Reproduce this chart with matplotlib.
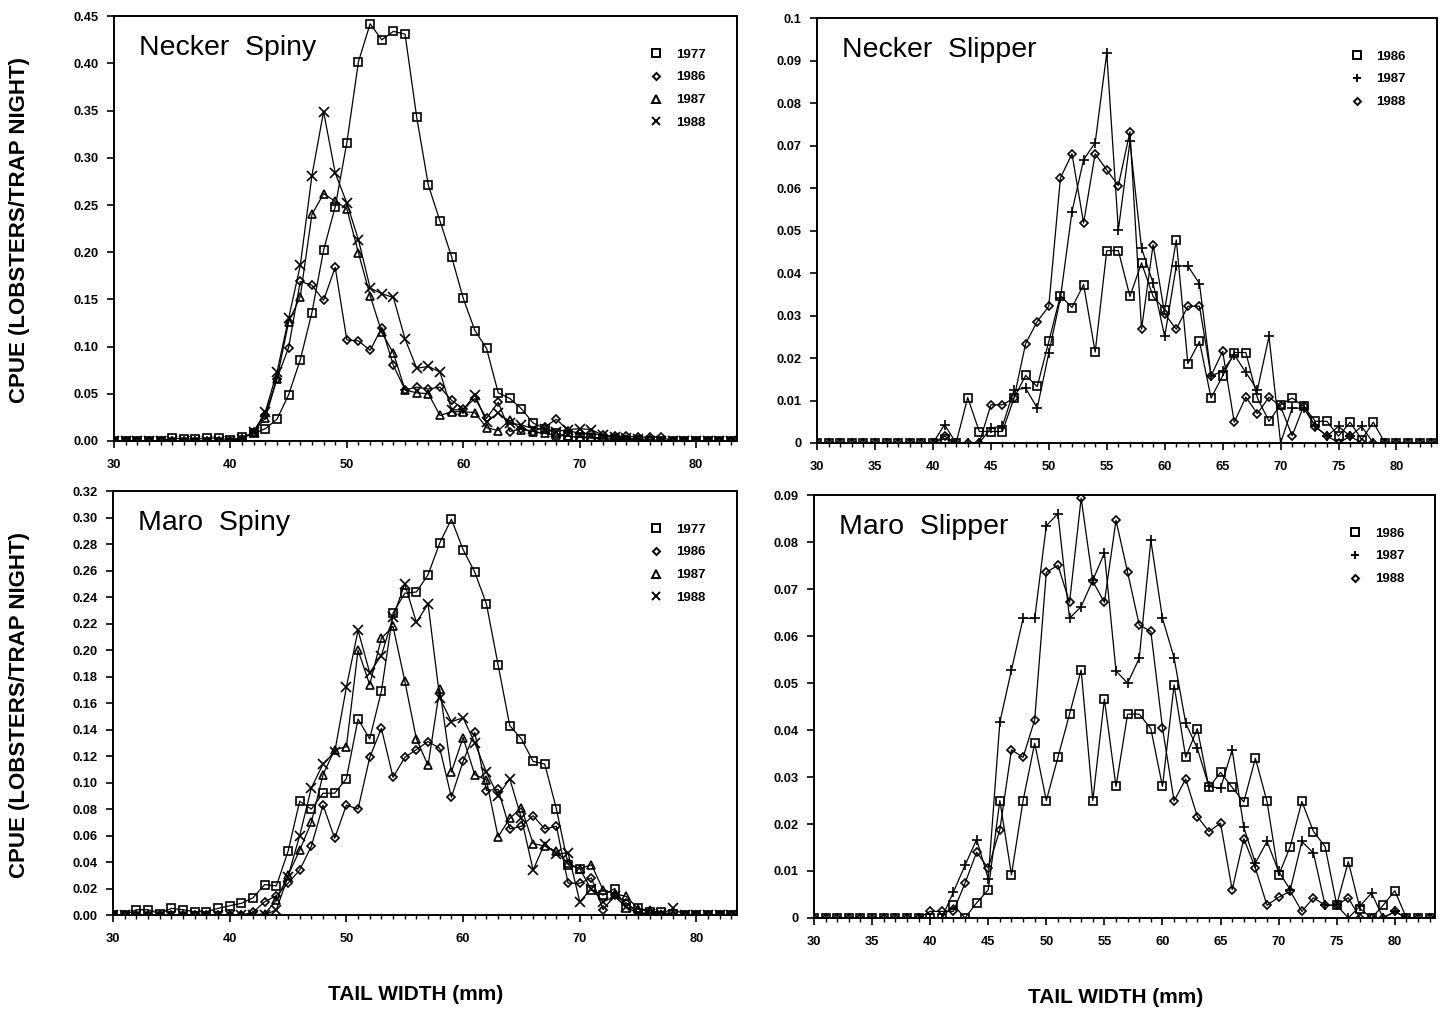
import matplotlib
matplotlib.use("Agg")
import matplotlib.pyplot as plt
from matplotlib.lines import Line2D
from matplotlib.ticker import MultipleLocator, FixedLocator

plt.rcParams["font.family"] = ["Liberation Sans", "DejaVu Sans"]

# tail width classes (mm), one point per mm
tail_width = list(range(30, 84))

# --- Necker spiny lobster CPUE ---
necker_spiny_1977 = [0, 0, 0, 0, 0, 0.003, 0.002, 0.002, 0.003, 0.003,
                     0.001, 0.004, 0.008, 0.013, 0.023, 0.049, 0.086, 0.136, 0.202, 0.248,
                     0.316, 0.402, 0.442, 0.425, 0.434, 0.431, 0.343, 0.271, 0.233, 0.195,
                     0.151, 0.117, 0.098, 0.051, 0.045, 0.034, 0.019, 0.013, 0.008, 0.005,
                     0.004, 0.003, 0.002, 0.002, 0.001, 0.001, 0, 0, 0, 0,
                     0, 0, 0, 0]
necker_spiny_1986 = [0, 0, 0, 0, 0, 0, 0, 0, 0, 0,
                     0, 0.002, 0.010, 0.028, 0.066, 0.099, 0.169, 0.165, 0.149, 0.184,
                     0.107, 0.106, 0.096, 0.120, 0.080, 0.054, 0.057, 0.055, 0.057, 0.043,
                     0.034, 0.045, 0.024, 0.041, 0.010, 0.013, 0.010, 0.015, 0.023, 0.011,
                     0.008, 0.008, 0.006, 0.005, 0.005, 0.004, 0.004, 0.004, 0, 0,
                     0, 0, 0, 0]
necker_spiny_1987 = [0, 0, 0, 0, 0, 0, 0, 0, 0, 0,
                     0, 0.002, 0.010, 0.024, 0.066, 0.126, 0.153, 0.240, 0.262, 0.254,
                     0.246, 0.199, 0.154, 0.115, 0.093, 0.054, 0.051, 0.050, 0.027, 0.031,
                     0.031, 0.030, 0.014, 0.011, 0.022, 0.012, 0.010, 0.008, 0.006, 0.005,
                     0.004, 0.004, 0.003, 0.003, 0.002, 0.002, 0.002, 0, 0, 0,
                     0, 0, 0, 0]
necker_spiny_1988 = [0, 0, 0, 0, 0, 0, 0, 0, 0, 0,
                     0, 0.002, 0.010, 0.031, 0.073, 0.130, 0.186, 0.281, 0.349, 0.284,
                     0.252, 0.213, 0.162, 0.156, 0.152, 0.108, 0.077, 0.079, 0.073, 0.033,
                     0.033, 0.049, 0.020, 0.030, 0.019, 0.017, 0.013, 0.013, 0.010, 0.012,
                     0.013, 0.012, 0.006, 0.004, 0.003, 0.002, 0, 0, 0, 0,
                     0, 0, 0, 0]

# --- Necker slipper lobster CPUE ---
necker_slipper_1986 = [0, 0, 0, 0, 0, 0, 0, 0, 0, 0,
                       0, 0.001, 0, 0.0107, 0.0027, 0.0027, 0.0027, 0.0106, 0.0159, 0.0133,
                       0.0239, 0.0347, 0.0319, 0.0373, 0.0214, 0.0453, 0.0453, 0.0345, 0.0424, 0.0345,
                       0.0314, 0.0478, 0.0187, 0.0239, 0.0106, 0.0158, 0.0213, 0.0213, 0.0106, 0.0051,
                       0.009, 0.0106, 0.0086, 0.0051, 0.0051, 0.0016, 0.0049, 0.0008, 0.0049, 0,
                       0, 0, 0, 0]
necker_slipper_1987 = [0, 0, 0, 0, 0, 0, 0, 0, 0, 0,
                       0, 0.0043, 0, 0, 0, 0.0035, 0.004, 0.0125, 0.0129, 0.0082,
                       0.0212, 0.0341, 0.0545, 0.0667, 0.0707, 0.0918, 0.0502, 0.071, 0.0459, 0.0376,
                       0.0251, 0.0417, 0.0417, 0.0375, 0.0158, 0.0169, 0.0208, 0.0166, 0.0125, 0.0251,
                       0, 0.0082, 0.0082, 0.0039, 0.0016, 0.0039, 0.0016, 0.0039, 0, 0,
                       0, 0, 0, 0]
necker_slipper_1988 = [0, 0, 0, 0, 0, 0, 0, 0, 0, 0,
                       0, 0.0016, 0, 0, 0, 0.009, 0.009, 0.0106, 0.0234, 0.0286,
                       0.0322, 0.0624, 0.0681, 0.0518, 0.0681, 0.0643, 0.0606, 0.0733, 0.0268, 0.0467,
                       0.0304, 0.0268, 0.0322, 0.0322, 0.0158, 0.0216, 0.0049, 0.0108, 0.0069, 0.0108,
                       0.0086, 0.0017, 0.0088, 0.0038, 0.0017, 0, 0.0016, 0, 0, 0,
                       0, 0, 0, 0]

# --- Maro spiny lobster CPUE ---
maro_spiny_1977 = [0, 0, 0.004, 0.004, 0.001, 0.005, 0.004, 0.0025, 0.0025, 0.005,
                   0.007, 0.0088, 0.013, 0.023, 0.022, 0.048, 0.086, 0.080, 0.092, 0.092,
                   0.103, 0.148, 0.133, 0.169, 0.228, 0.243, 0.244, 0.257, 0.281, 0.299,
                   0.276, 0.259, 0.235, 0.189, 0.143, 0.133, 0.116, 0.114, 0.080, 0.038,
                   0.035, 0.019, 0.015, 0.020, 0.0055, 0.005, 0.002, 0.002, 0.0005, 0,
                   0, 0, 0, 0]
maro_spiny_1986 = [0, 0, 0, 0, 0, 0, 0, 0, 0, 0,
                   0, 0, 0.002, 0.010, 0.0146, 0.024, 0.034, 0.052, 0.083, 0.058,
                   0.083, 0.080, 0.119, 0.141, 0.104, 0.119, 0.125, 0.131, 0.126, 0.089,
                   0.116, 0.138, 0.094, 0.095, 0.065, 0.067, 0.075, 0.065, 0.067, 0.024,
                   0.024, 0.028, 0.004, 0.015, 0.009, 0.002, 0.001, 0, 0, 0,
                   0, 0, 0, 0]
maro_spiny_1987 = [0, 0, 0, 0, 0, 0, 0, 0, 0, 0,
                   0, 0, 0, 0.001, 0.011, 0.030, 0.049, 0.070, 0.106, 0.125,
                   0.127, 0.200, 0.174, 0.209, 0.218, 0.177, 0.133, 0.113, 0.171, 0.108,
                   0.134, 0.106, 0.102, 0.059, 0.073, 0.081, 0.054, 0.052, 0.048, 0.039,
                   0.035, 0.038, 0.019, 0.016, 0.014, 0.0045, 0.004, 0.001, 0, 0,
                   0, 0, 0, 0]
maro_spiny_1988 = [0, 0, 0, 0, 0, 0, 0, 0, 0, 0,
                   0, 0, 0, 0, 0.004, 0.029, 0.060, 0.096, 0.114, 0.123,
                   0.172, 0.215, 0.183, 0.196, 0.225, 0.250, 0.221, 0.235, 0.164, 0.146,
                   0.149, 0.130, 0.108, 0.090, 0.103, 0.073, 0.034, 0.054, 0.046, 0.047,
                   0.010, 0.020, 0.010, 0.014, 0.006, 0.001, 0.001, 0.001, 0.005, 0,
                   0, 0, 0, 0]

# --- Maro slipper lobster CPUE ---
maro_slipper_1986 = [0, 0, 0, 0, 0, 0, 0, 0, 0, 0,
                     0, 0, 0.0028, 0, 0.0032, 0.006, 0.025, 0.0092, 0.025, 0.0372,
                     0.025, 0.0342, 0.0434, 0.0528, 0.025, 0.0466, 0.028, 0.0434, 0.0434, 0.0403,
                     0.028, 0.0496, 0.0342, 0.0403, 0.0278, 0.031, 0.0278, 0.0247, 0.034, 0.0248,
                     0.0091, 0.0152, 0.0248, 0.0184, 0.0152, 0.0028, 0.012, 0.002, 0, 0.0027,
                     0.0058, 0, 0, 0]
maro_slipper_1987 = [0, 0, 0, 0, 0, 0, 0, 0, 0, 0,
                     0, 0, 0.0055, 0.0112, 0.0167, 0.0084, 0.0417, 0.0528, 0.0638, 0.0638,
                     0.0835, 0.0861, 0.0638, 0.0663, 0.0719, 0.0777, 0.0526, 0.050, 0.0553, 0.0804,
                     0.0638, 0.0554, 0.0415, 0.0361, 0.028, 0.0276, 0.0358, 0.0193, 0.0117, 0.0163,
                     0.0099, 0.006, 0.0163, 0.0138, 0.0027, 0.0027, 0, 0.0025, 0.0053, 0,
                     0.0014, 0, 0, 0]
maro_slipper_1988 = [0, 0, 0, 0, 0, 0, 0, 0, 0, 0,
                     0.0014, 0.0014, 0.0014, 0.0074, 0.014, 0.0106, 0.0188, 0.0358, 0.0342, 0.0422,
                     0.0736, 0.0751, 0.0672, 0.0894, 0.0717, 0.0672, 0.0847, 0.0736, 0.0624, 0.061,
                     0.0405, 0.0249, 0.0296, 0.0216, 0.0184, 0.0202, 0.006, 0.0169, 0.0106, 0.0027,
                     0.0044, 0.0057, 0.0014, 0.0043, 0.0027, 0.0027, 0.0043, 0, 0, 0,
                     0.0014, 0, 0, 0]

spiny_years = ["1977", "1986", "1987", "1988"]
slipper_years = ["1986", "1987", "1988"]

MARKERS = {
    "s": dict(marker="s", markersize=6),
    "D": dict(marker="D", markersize=4.2),
    "^": dict(marker="^", markersize=6),
    "x": dict(marker="x", markersize=6.5),
    "+": dict(marker="+", markersize=7.5),
}


def draw_panel(ax, title, series, years, markers, ymax, ystep, yfmt, xmajor):
    for vals, yr, m in zip(series, years, markers):
        ax.plot(tail_width, vals, color="black", linewidth=0.9,
                markerfacecolor="none", markeredgecolor="black",
                markeredgewidth=1.2, **MARKERS[m])

    ax.set_xlim(30, 83.5)
    ax.set_ylim(0, ymax)
    ax.xaxis.set_major_locator(MultipleLocator(xmajor))
    ax.xaxis.set_minor_locator(MultipleLocator(1))
    yt = [i * ystep for i in range(int(round(ymax / ystep)) + 1)]
    ax.yaxis.set_major_locator(FixedLocator(yt))
    ax.set_yticklabels([yfmt(v) for v in yt])

    ax.tick_params(axis="both", which="major", direction="out", length=5,
                   width=1.2, labelsize=9.3)
    ax.tick_params(axis="x", which="major", pad=8)
    ax.tick_params(axis="y", which="major", pad=6)
    ax.tick_params(axis="x", which="minor", direction="out", length=3, width=1)
    for lab in ax.get_xticklabels() + ax.get_yticklabels():
        lab.set_fontweight("bold")
    for sp in ax.spines.values():
        sp.set_linewidth(1.4)

    ax.text(0.04, 0.925, title, transform=ax.transAxes, fontsize=20.5,
            va="center", ha="left")

    handles = [Line2D([], [], linestyle="none", markerfacecolor="none",
                      markeredgecolor="black", markeredgewidth=1.4,
                      color="black", **dict(MARKERS[m], markersize=MARKERS[m]["markersize"] * 0.85))
               for m in markers]
    ax.legend(handles, years, loc="upper left", bbox_to_anchor=(0.845, 0.946),
              frameon=False, handlelength=1.0, handletextpad=1.0,
              labelspacing=0.8, borderpad=0.2,
              prop={"weight": "bold", "size": 9.5})


def fmt2(v):
    return f"{v:.2f}"


def fmt_short(v):
    if abs(v) < 1e-9:
        return "0"
    return f"{v:.2f}".rstrip("0") if v < 0.1 - 1e-9 else "0.1"


fig = plt.figure(figsize=(14.52, 10.16), dpi=100)
ax1 = fig.add_axes([0.0785, 0.566, 0.429, 0.418])
ax2 = fig.add_axes([0.5627, 0.564, 0.427, 0.418])
ax3 = fig.add_axes([0.0778, 0.0994, 0.430, 0.417])
ax4 = fig.add_axes([0.5606, 0.0965, 0.428, 0.416])

draw_panel(ax1, "Necker  Spiny",
           [necker_spiny_1977, necker_spiny_1986, necker_spiny_1987, necker_spiny_1988],
           spiny_years, ["s", "D", "^", "x"], 0.45, 0.05, fmt2, 10)
draw_panel(ax2, "Necker  Slipper",
           [necker_slipper_1986, necker_slipper_1987, necker_slipper_1988],
           slipper_years, ["s", "+", "D"], 0.1, 0.01, fmt_short, 5)
draw_panel(ax3, "Maro  Spiny",
           [maro_spiny_1977, maro_spiny_1986, maro_spiny_1987, maro_spiny_1988],
           spiny_years, ["s", "D", "^", "x"], 0.32, 0.02, fmt2, 10)
draw_panel(ax4, "Maro  Slipper",
           [maro_slipper_1986, maro_slipper_1987, maro_slipper_1988],
           slipper_years, ["s", "+", "D"], 0.09, 0.01, fmt_short, 5)

ylab = "CPUE (LOBSTERS/TRAP NIGHT)"
fig.text(0.0135, 0.774, ylab, rotation=90, ha="center", va="center",
         fontsize=16, fontweight="bold")
fig.text(0.0135, 0.306, ylab, rotation=90, ha="center", va="center",
         fontsize=16, fontweight="bold")
fig.text(0.286, 0.0207, "TAIL WIDTH (mm)", ha="center", va="center",
         fontsize=15, fontweight="bold")
fig.text(0.768, 0.018, "TAIL WIDTH (mm)", ha="center", va="center",
         fontsize=15, fontweight="bold")

fig.savefig("out.png", dpi=100)
